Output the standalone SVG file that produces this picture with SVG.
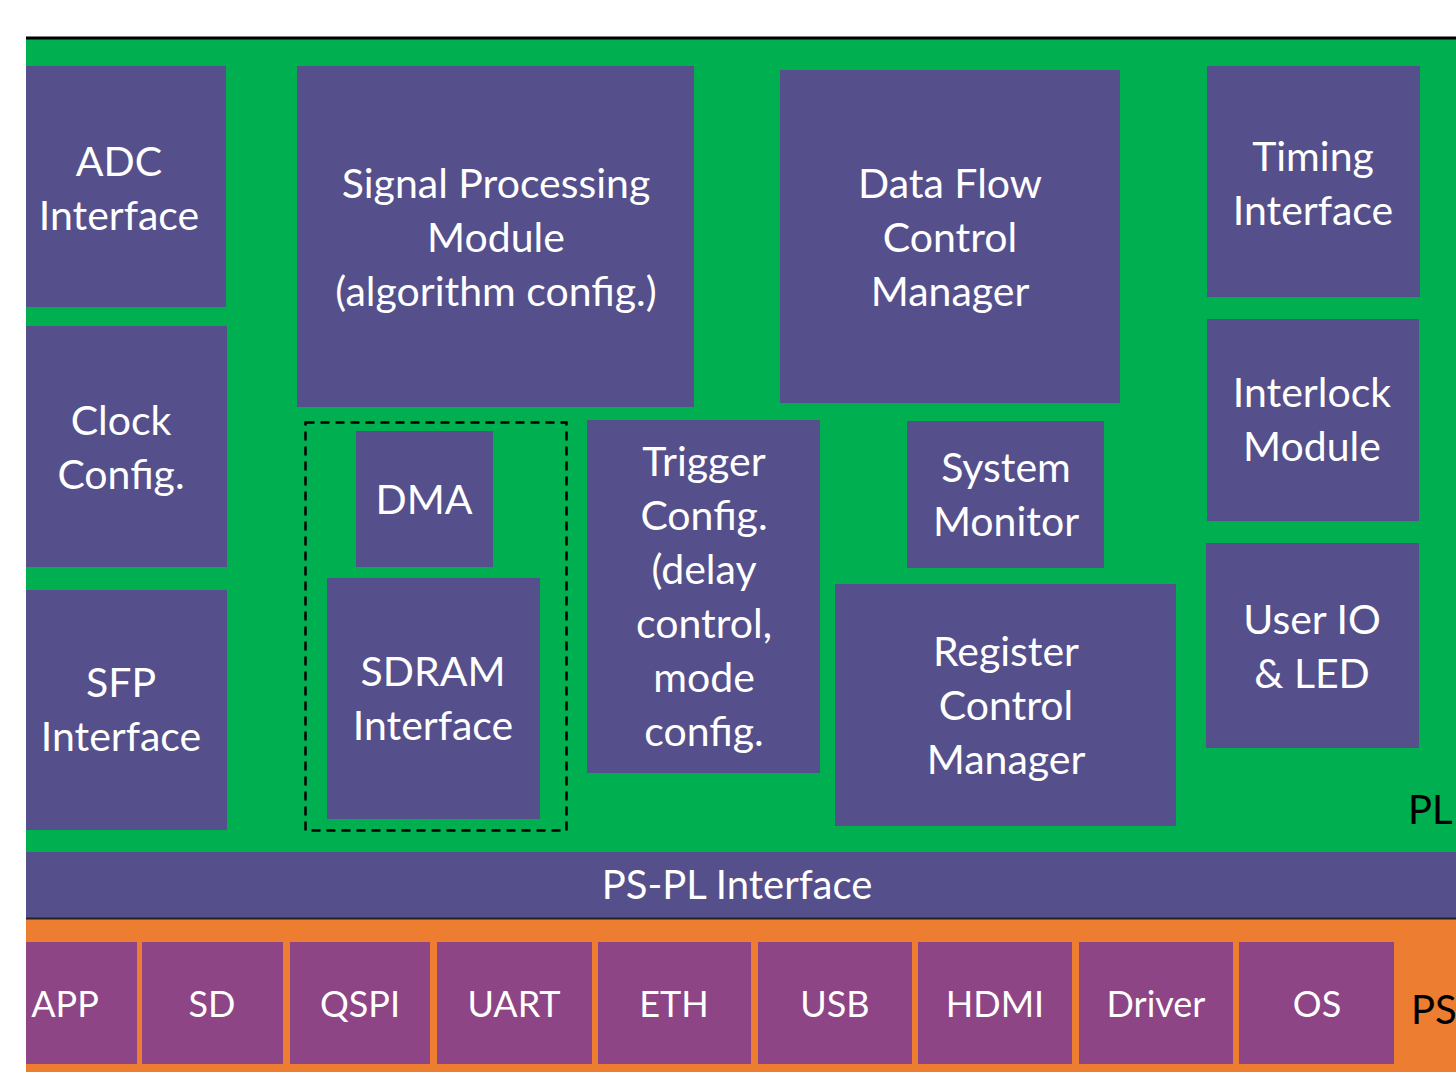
<svg xmlns="http://www.w3.org/2000/svg" width="1456" height="1072" viewBox="0 0 1456 1072">
<style>
.b{fill:#55508B}
.p{fill:#8E4585}
text{font-family:Lato,"Open Sans","Liberation Sans",sans-serif;font-size:41px;fill:#FFFFFF;text-anchor:middle}
.s{font-size:36px}
.k{fill:#000000;text-anchor:start;font-size:40px}
</style>
<rect x="0" y="0" width="1456" height="1072" fill="#FFFFFF"/>
<g id="pl-region">
<rect x="26" y="38" width="1430" height="814" fill="#00B050"/>
<line x1="26" y1="38" x2="1456" y2="38" stroke="#000" stroke-width="3"/>
<text class="k" x="1408" y="824">PL</text>
</g>
<g id="ps-region">
<rect x="26" y="919" width="1430" height="153" fill="#ED7D31"/>
<text class="k" x="1411" y="1024">PS</text>
</g>
<g id="ps-pl-interface">
<rect class="b" x="26" y="852" width="1430" height="66"/>
<line x1="26" y1="918.5" x2="1456" y2="918.5" stroke="#222" stroke-width="2"/>
<text x="737" y="899" style="font-size:40px">PS-PL Interface</text>
</g>
<g id="adc"><rect class="b" x="26" y="66" width="200" height="241"/><text x="119" y="176">ADC</text><text x="119" y="230">Interface</text></g>
<g id="clock"><rect class="b" x="26" y="326" width="201" height="241"/><text x="121" y="435">Clock</text><text x="121" y="489">Config.</text></g>
<g id="sfp"><rect class="b" x="26" y="590" width="201" height="240"/><text x="121" y="697">SFP</text><text x="121" y="751">Interface</text></g>
<g id="signal"><rect class="b" x="297" y="66" width="397" height="341"/><text x="496" y="198">Signal Processing</text><text x="496" y="252">Module</text><text x="496" y="306">(algorithm config.)</text></g>
<g id="dataflow"><rect class="b" x="780" y="70" width="340" height="333"/><text x="950" y="198">Data Flow</text><text x="950" y="252">Control</text><text x="950" y="306">Manager</text></g>
<g id="timing"><rect class="b" x="1207" y="66" width="213" height="231"/><text x="1313" y="171">Timing</text><text x="1313" y="225">Interface</text></g>
<g id="interlock"><rect class="b" x="1207" y="319" width="212" height="202"/><text x="1312" y="407">Interlock</text><text x="1312" y="461">Module</text></g>
<g id="userio"><rect class="b" x="1206" y="543" width="213" height="205"/><text x="1312" y="634">User IO</text><text x="1312" y="688">&amp; LED</text></g>
<g id="memory-group"><rect x="305.5" y="422.5" width="261" height="408" fill="none" stroke="#000" stroke-width="2.5" stroke-dasharray="9,6"/></g>
<g id="dma"><rect class="b" x="356" y="431" width="137" height="136"/><text x="424" y="514">DMA</text></g>
<g id="sdram"><rect class="b" x="327" y="578" width="213" height="241"/><text x="433" y="686">SDRAM</text><text x="433" y="740">Interface</text></g>
<g id="trigger"><rect class="b" x="587" y="420" width="233" height="353"/><text x="704" y="476">Trigger</text><text x="704" y="530">Config.</text><text x="704" y="584">(delay</text><text x="704" y="638">control,</text><text x="704" y="692">mode</text><text x="704" y="746">config.</text></g>
<g id="sysmon"><rect class="b" x="907" y="421" width="197" height="147"/><text x="1006" y="482">System</text><text x="1006" y="536">Monitor</text></g>
<g id="register"><rect class="b" x="835" y="584" width="341" height="242"/><text x="1006" y="666">Register</text><text x="1006" y="720">Control</text><text x="1006" y="774">Manager</text></g>
<g id="app"><rect class="p" x="26" y="942" width="111" height="122"/><text class="s" x="65" y="1017">APP</text></g>
<g id="sd"><rect class="p" x="142" y="942" width="141" height="122"/><text class="s" x="212" y="1017">SD</text></g>
<g id="qspi"><rect class="p" x="290" y="942" width="140" height="122"/><text class="s" x="360" y="1017">QSPI</text></g>
<g id="uart"><rect class="p" x="437" y="942" width="155" height="122"/><text class="s" x="514" y="1017">UART</text></g>
<g id="eth"><rect class="p" x="598" y="942" width="153" height="122"/><text class="s" x="674" y="1017">ETH</text></g>
<g id="usb"><rect class="p" x="758" y="942" width="154" height="122"/><text class="s" x="835" y="1017">USB</text></g>
<g id="hdmi"><rect class="p" x="918" y="942" width="154" height="122"/><text class="s" x="995" y="1017">HDMI</text></g>
<g id="driver"><rect class="p" x="1079" y="942" width="154" height="122"/><text class="s" x="1156" y="1017">Driver</text></g>
<g id="os"><rect class="p" x="1239" y="942" width="155" height="122"/><text class="s" x="1317" y="1017">OS</text></g>
<g id="connectors"></g>
</svg>
